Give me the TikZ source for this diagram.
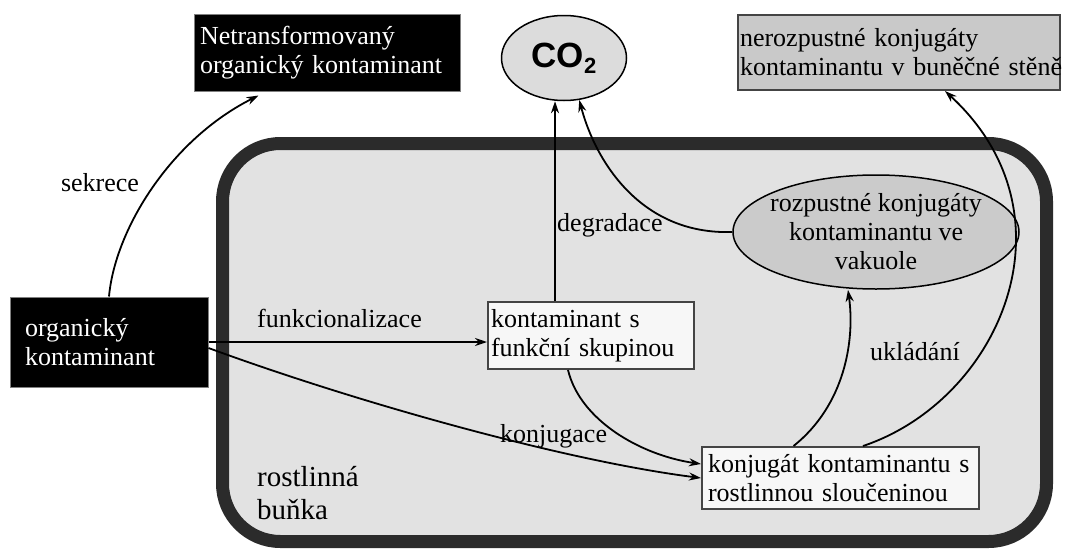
\documentclass[tikz,border=0pt]{standalone}
\usepackage{fontspec}
\setmainfont{Liberation Serif}
\newfontfamily\cofont{Liberation Sans}
\usetikzlibrary{arrows.meta,shapes.geometric}
\definecolor{cellfill}{HTML}{E2E2E2}
\definecolor{cellborder}{HTML}{2B2B2B}
\definecolor{cofill}{HTML}{DCDCDC}
\definecolor{vacfill}{HTML}{CBCBCB}
\definecolor{nerofill}{HTML}{C9C9C9}
\definecolor{boxfill}{HTML}{F7F7F7}
\definecolor{boxborder}{HTML}{444444}
\begin{document}
\begin{tikzpicture}[x=1pt,y=-1pt,
  every node/.style={font=\fontsize{26}{29}\selectfont},
  arr/.style={line width=1.8pt,-{Stealth[length=12pt,width=8pt]}},
  lbl/.style={inner sep=0pt,anchor=west},
  blackbox/.style={draw=gray,line width=1pt,fill=black,text=white,inner ysep=0pt,align=left},
  whitebox/.style={draw=boxborder,line width=2pt,fill=boxfill,inner ysep=0pt,align=left},
]
\useasboundingbox[fill=white] (0,0) rectangle (1087,549);
% plant cell
\draw[line width=13pt,draw=cellborder,fill=cellfill,rounded corners=58pt]
  (222.5,143.5) rectangle (1046.5,541.5);

% nodes
\node[blackbox,minimum width=266pt,minimum height=77pt,text width=254pt,inner xsep=6pt]
  (netr) at (327,52.5) {Netransformovaný\\organický kontaminant};
\node[draw=boxborder,line width=2pt,fill=nerofill,minimum width=322pt,minimum height=75pt,
  text width=318pt,inner xsep=2pt,inner ysep=0pt,align=left]
  (nero) at (899,52.5) {\mbox{nerozpustné konjugáty}\\\mbox{kontaminantu v buněčné stěně}};
\node[ellipse,draw,line width=1.5pt,fill=cofill,minimum width=125pt,minimum height=85pt,inner sep=0pt]
  (co2) at (564,58) {\cofont\bfseries\fontsize{35}{35}\selectfont CO\raisebox{-6pt}{\fontsize{22}{22}\selectfont 2}};
\node[blackbox,minimum width=198pt,minimum height=90pt,text width=168pt,inner xsep=15pt]
  (org) at (109,342) {organický\\kontaminant};
\node[whitebox,minimum width=206pt,minimum height=67pt,text width=200pt,inner xsep=3pt]
  (funk) at (591,335.5) {\mbox{kontaminant s}\\\mbox{funkční skupinou}};
\node[whitebox,minimum width=277pt,minimum height=62pt,text width=265pt,inner xsep=6pt]
  (konj) at (840.5,478) {\mbox{konjugát kontaminantu s}\\\mbox{rostlinnou sloučeninou}};
\node[ellipse,draw,line width=1.5pt,fill=vacfill,minimum width=286pt,minimum height=114pt,
  inner sep=-6pt,align=center]
  (vac) at (876,232) {rozpustné konjugáty\\kontaminantu ve\\vakuole};

% labels
\node[inner sep=0pt] (lsek) at (100,183) {sekrece};
\node[lbl] (lfun) at (257,318) {funkcionalizace};
\node[lbl] (ldeg) at (557,225) {degradace};
\node[lbl] (lkon) at (500,436) {konjugace};
\node[lbl] (lukl) at (870,352) {ukládání};
\node[lbl,align=left,font=\fontsize{29}{33}\selectfont] (lcell) at (257,493) {rostlinná\\buňka};

% connectors
\draw[arr] (org.north) .. controls (115,230) and (170,140) .. ([xshift=65pt,yshift=-4pt]netr.south west);
\draw[arr] (org.east) -- (org.east -| funk.west);
\draw[arr] ([yshift=-6pt]org.east) .. controls (350,400) and (560,460) .. (konj.west);
\draw[arr] ([xshift=-23pt]funk.south) .. controls (580,420) and (640,455) .. ([yshift=14pt]konj.west);
\draw[arr] ([xshift=-36pt]funk.north) -- ([xshift=-36pt]funk.north |- co2.south);
\draw[arr] (vac.west) .. controls (640,235) and (595,160) .. (co2.-70);
\draw[arr] ([xshift=-47pt]konj.north) .. controls (845,405) and (855,340) .. ([xshift=-28pt]vac.south);
\draw[arr] ([xshift=22.5pt]konj.north) .. controls (1000,400) and (1080,215) .. ([xshift=46pt]nero.south);
\end{tikzpicture}
\end{document}
